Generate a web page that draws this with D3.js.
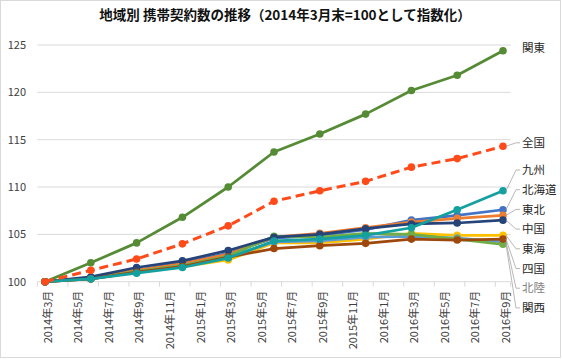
<!DOCTYPE html>
<html><head><meta charset="utf-8">
<script src="https://cdn.jsdelivr.net/npm/d3@7"></script>
<style>
body{margin:0;background:#fff;}
svg text{font-family:"Noto Sans CJK JP","Noto Sans",sans-serif;}
</style></head>
<body><svg id="c" width="562" height="360"></svg>
<script>
// months since 2014年3月 for each data point (quarter-ends)
const months = [0,3,6,9,12,15,18,21,24,27,30];
const tickLabels = ["2014年3月","2014年5月","2014年7月","2014年9月","2014年11月",
  "2015年1月","2015年3月","2015年5月","2015年7月","2015年9月","2015年11月",
  "2016年1月","2016年3月","2016年5月","2016年7月","2016年9月"];
const yTicks = [100,105,110,115,120,125];
const seriesNames = ["北海道","東北","関東","東海","北陸","関西","中国","四国","九州","全国"];
const hokkaido = [100,100.4,101.2,102.0,103.0,104.6,104.9,105.5,106.5,107.0,107.6];
const tohoku   = [100,100.4,101.2,101.9,102.9,104.7,105.1,105.7,106.3,106.7,107.0];
const kanto    = [100,102.0,104.1,106.8,110.0,113.7,115.6,117.7,120.2,121.8,124.4];
const tokai    = [100,100.3,101.0,101.6,102.3,104.1,104.1,104.5,105.1,104.9,104.9];
const hokuriku = [100,100.3,101.0,101.7,102.6,104.2,104.3,104.7,104.8,104.6,104.2];
const kansai   = [100,100.3,101.1,101.7,102.7,104.8,104.7,105.1,105.0,104.5,103.95];
const chugoku  = [100,100.5,101.5,102.2,103.3,104.7,105.0,105.6,106.1,106.2,106.5];
const shikoku  = [100,100.3,101.0,101.6,102.6,103.5,103.8,104.05,104.5,104.4,104.5];
const kyushu   = [100,100.3,100.9,101.5,102.5,104.3,104.5,104.9,105.7,107.6,109.6];
const zenkoku  = [100,101.2,102.4,104.0,105.9,108.5,109.6,110.6,112.1,113.0,114.3];
const seriesValues = [hokkaido,tohoku,kanto,tokai,hokuriku,kansai,chugoku,shikoku,kyushu,zenkoku];
const colors = ["#4472C4","#ED7D31","#558B34","#FFC000","#5B9BD5","#70AD47","#264478","#9E480E","#15A0A0","#FF4A1A"];

const svg = d3.select("#c");
// chart border
svg.append("rect").attr("x",0.5).attr("y",0.5).attr("width",560).attr("height",357)
  .attr("fill","#fff").attr("stroke","#d9d9d9");

const x = d3.scaleLinear().domain([0,30]).range([45,503]);
const y = d3.scaleLinear().domain([100,125]).range([281.7,45]);
const x0 = x(-0.5), x1 = x(30.5);

// title
svg.append("text").attr("x",285).attr("y",20).attr("text-anchor","middle")
  .attr("font-size",13.5).attr("font-weight","bold").attr("fill","#111")
  .text("地域別 携帯契約数の推移（2014年3月末=100として指数化）");

// gridlines
svg.append("g").selectAll("line").data(yTicks.slice(1)).join("line")
  .attr("x1",x0).attr("x2",x1).attr("y1",d=>y(d)).attr("y2",d=>y(d))
  .attr("stroke","#d9d9d9").attr("stroke-width",1);

// y labels
svg.append("g").selectAll("text").data(yTicks).join("text")
  .attr("x",26).attr("y",d=>y(d)).attr("dy","0.35em").attr("text-anchor","end")
  .attr("font-size",11).attr("fill","#404040").text(d=>d);

// x axis line & ticks
svg.append("line").attr("x1",x0).attr("x2",x1).attr("y1",y(100)).attr("y2",y(100))
  .attr("stroke","#d9d9d9");
const tickPos = tickLabels.map((d,i)=>i*2-0.5).concat([30.5]);
svg.append("g").selectAll("line").data(tickPos).join("line")
  .attr("x1",d=>x(d)).attr("x2",d=>x(d)).attr("y1",y(100)).attr("y2",y(100)+5)
  .attr("stroke","#d9d9d9");
svg.append("g").selectAll("text").data(tickLabels).join("text")
  .attr("transform",(d,i)=>`translate(${x(i*2)+3},${y(100)+9}) rotate(-90)`)
  .attr("dy","0.35em").attr("text-anchor","end").attr("font-size",11)
  .attr("fill","#404040").text(d=>d);

// lines
const line = d3.line().x((d,i)=>x(months[i])).y(d=>y(d));
seriesValues.forEach((vals,si)=>{
  const g = svg.append("g");
  const isZ = seriesNames[si]==="全国";
  g.append("path").attr("d",line(vals)).attr("fill","none")
    .attr("stroke",colors[si]).attr("stroke-width",isZ?3:2.75)
    .attr("stroke-dasharray",isZ?"9,5":null).attr("stroke-linejoin","round");
  g.selectAll("circle").data(vals).join("circle")
    .attr("cx",(d,i)=>x(months[i])).attr("cy",d=>y(d)).attr("r",3.8)
    .attr("fill",colors[si]);
});

// end labels with leader lines
const order = ["関東","全国","九州","北海道","東北","中国","東海","四国","北陸","関西"];
const lx = 522;
order.forEach((name,k)=>{
  const si = seriesNames.indexOf(name);
  const vals = seriesValues[si];
  const py = y(vals[vals.length-1]), px = x(30);
  let ly;
  if (name==="関東") ly = py-3;
  else if (name==="全国") ly = py-3.5;
  else ly = 170 + (k-2)*19.7;
  if (name!=="関東") {
    svg.append("polyline")
      .attr("points",`${px+3},${py} ${lx-6},${ly} ${lx-2},${ly}`)
      .attr("fill","none").attr("stroke","#a6a6a6").attr("stroke-width",0.8);
  }
  svg.append("text").attr("x",lx).attr("y",ly).attr("dy","0.36em")
    .attr("font-size",11.5).attr("fill",name==="北陸"?"#808080":"#262626").text(name);
});
</script></body></html>
